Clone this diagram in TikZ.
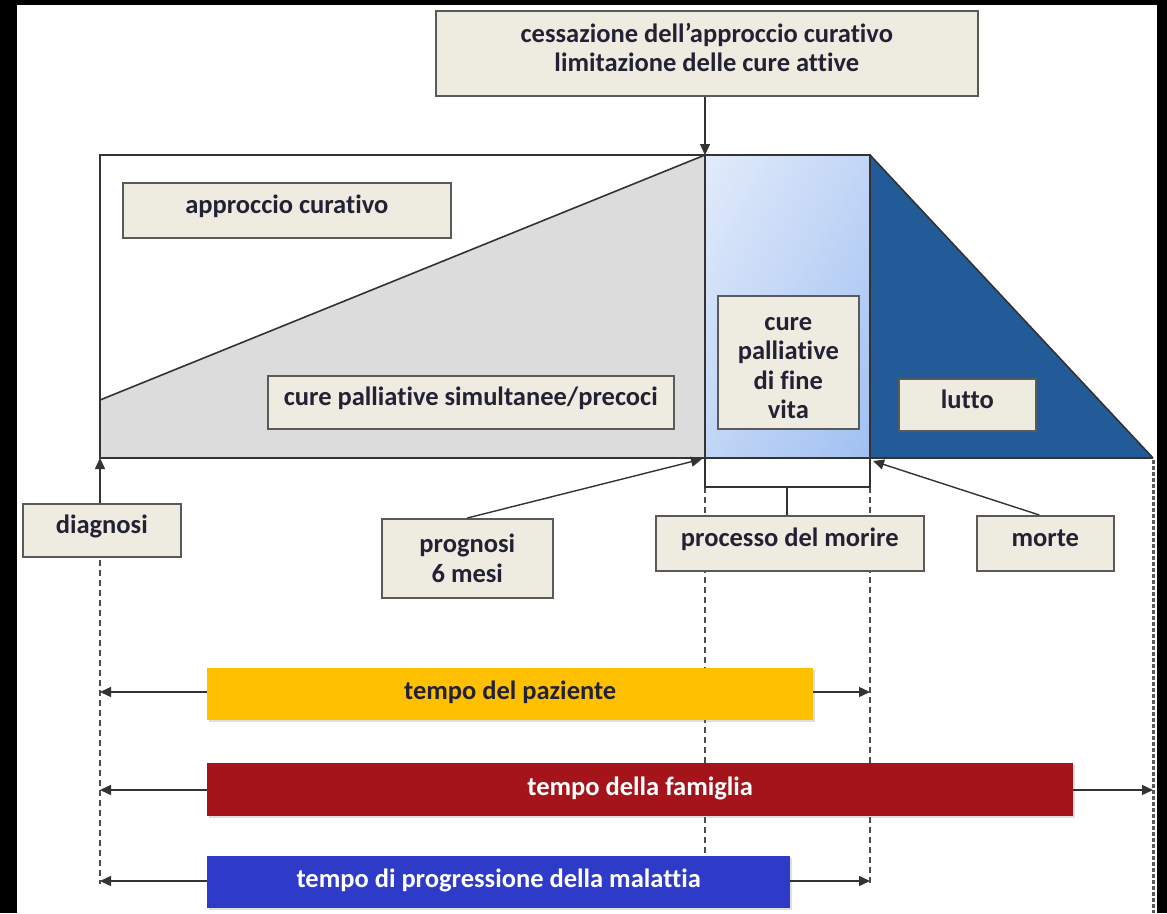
\documentclass[tikz,border=0pt]{standalone}
\usepackage{fontspec}
\setmainfont{Carlito}[Ligatures=NoCommon]
\usetikzlibrary{arrows.meta,shadows,shadings}

\definecolor{boxfill}{RGB}{238,236,225}
\definecolor{boxline}{RGB}{90,90,90}
\definecolor{txt}{RGB}{34,34,52}
\definecolor{graypart}{RGB}{220,220,220}
\definecolor{lightA}{RGB}{226,235,250}
\definecolor{lightB}{RGB}{160,192,242}
\definecolor{darkblue}{RGB}{34,91,151}
\definecolor{baryellow}{RGB}{255,192,0}
\definecolor{barred}{RGB}{165,20,26}
\definecolor{barblue}{RGB}{46,58,200}

\tikzset{
  lbl/.style={draw=boxline, line width=1.6pt, fill=boxfill, inner sep=0pt,
    align=center, text=txt, font=\fontsize{26.5}{29.5}\selectfont\bfseries,
    drop shadow={shadow xshift=1.5pt, shadow yshift=-1.5pt, opacity=.2},
    anchor=north west},
  oneline/.style={text height=18.5pt, text depth=11.5pt},
  bar/.style={inner sep=0pt, align=center, font=\fontsize{26.5}{29.5}\selectfont\bfseries,
    drop shadow={shadow xshift=1.5pt, shadow yshift=-1.5pt, opacity=.25},
    text height=20.5pt, text depth=9.5pt, anchor=north west},
  edge/.style={draw=black!80, line width=1.6pt},
  pointer/.style={draw=black!80, line width=1.4pt, -{Triangle[length=11pt,width=10pt]}},
  guide/.style={draw=black!70, line width=1.2pt, dash pattern=on 6pt off 4pt},
}

\begin{document}
\begin{tikzpicture}[x=1pt,y=-1pt]
  % page frame
  \useasboundingbox (0,0) rectangle (1167,913);
  \fill[black] (0,0) rectangle (1167,913);
  \fill[white] (17,5) rectangle (1157,913);

  % time axis areas
  \fill[graypart] (100,400) -- (705,155) -- (705,458) -- (100,458) -- cycle;
  \shade[upper left=lightA, upper right=lightA!50!lightB, lower left=lightA!50!lightB,
         lower right=lightB] (705,155) rectangle (870,458);
  \fill[darkblue] (870,155) -- (1153,458) -- (870,458) -- cycle;
  \draw[edge] (100,400) -- (705,155);
  \draw[edge] (870,155) -- (1153,458);
  \draw[edge] (100,155) rectangle (870,458);
  \draw[edge] (705,155) -- (705,458);
  \draw[edge] (870,458) -- (1153,458);

  % anchors on the axis
  \coordinate (cessP) at (705,155);
  \coordinate (diagP) at (100,458);
  \coordinate (progP) at (702,459);
  \coordinate (mortP) at (873,461);

  % guide lines
  \draw[guide] (100,560) -- (100,884);
  \draw[guide] (705,487) -- (705,886);
  \draw[guide] (870,487) -- (870,886);
  \draw[draw=black!65, line width=3pt, dash pattern=on 3.5pt off 2.5pt] (1153,460) -- (1153,913);
  \coordinate (gL1) at (100,692);
  \coordinate (gR1) at (870,692);
  \coordinate (gL2) at (100,790);
  \coordinate (gR2) at (1153,790);
  \coordinate (gL3) at (100,881);
  \coordinate (gR3) at (870,881);

  % labels
  \node[lbl, text depth=12pt, minimum width=542pt, minimum height=85pt] (cess) at (435,10)
    {cessazione dell’approccio curativo\\limitazione delle cure attive};
  \node[lbl, oneline, minimum width=328pt, minimum height=55pt] (curat) at (122,182) {approccio curativo};
  \node[lbl, oneline, minimum width=406pt, minimum height=53pt] (simul) at (267,375) {cure palliative simultanee/precoci};
  \node[lbl, text height=113pt, text depth=0pt, minimum width=141pt, minimum height=133pt] (fine) at (717,295)
    {cure\\palliative\\di fine\\vita};
  \node[lbl, oneline, minimum width=137pt, minimum height=52pt] (lutto) at (898,378) {lutto};
  \node[lbl, oneline, minimum width=158pt, minimum height=53pt] (diag) at (22,503) {diagnosi};
  \node[lbl, minimum width=171pt, minimum height=79pt] (prog) at (381,518) {prognosi\\6 mesi};
  \node[lbl, oneline, minimum width=268pt, minimum height=55pt] (proc) at (655,515) {processo del morire};
  \node[lbl, oneline, minimum width=137pt, minimum height=55pt] (mort) at (976,515) {morte};

  % pointers to the axis
  \draw[pointer] (cess.south -| cessP) -- (cessP);
  \draw[pointer] (diag.north -| diagP) -- (diagP);
  \draw[pointer] (prog.north) -- (progP);
  \draw[pointer] ([xshift=-6pt]mort.north) -- (mortP);

  % bracket over the dying process
  \draw[edge] (705,458) -- (705,487) -- (870,487) -- (870,458);
  \draw[edge] (787,487) -- (proc.north -| 787,0);

  % time bars
  \node[bar, fill=baryellow, text=txt, minimum width=606pt, minimum height=52pt] (paz) at (207,668) {tempo del paziente};
  \node[bar, fill=barred, text=white, minimum width=866pt, minimum height=53pt] (fam) at (207,763) {tempo della famiglia};
  \node[bar, fill=barblue, text=white, minimum width=583pt, minimum height=52pt] (mal) at (207,856) {tempo di progressione della malattia};

  \draw[pointer] (paz.west |- gL1) -- (gL1);
  \draw[pointer] (paz.east |- gR1) -- (gR1);
  \draw[pointer] (fam.west |- gL2) -- (gL2);
  \draw[pointer] (fam.east |- gR2) -- (gR2);
  \draw[pointer] (mal.west |- gL3) -- (gL3);
  \draw[pointer] (mal.east |- gR3) -- (gR3);
\end{tikzpicture}
\end{document}
